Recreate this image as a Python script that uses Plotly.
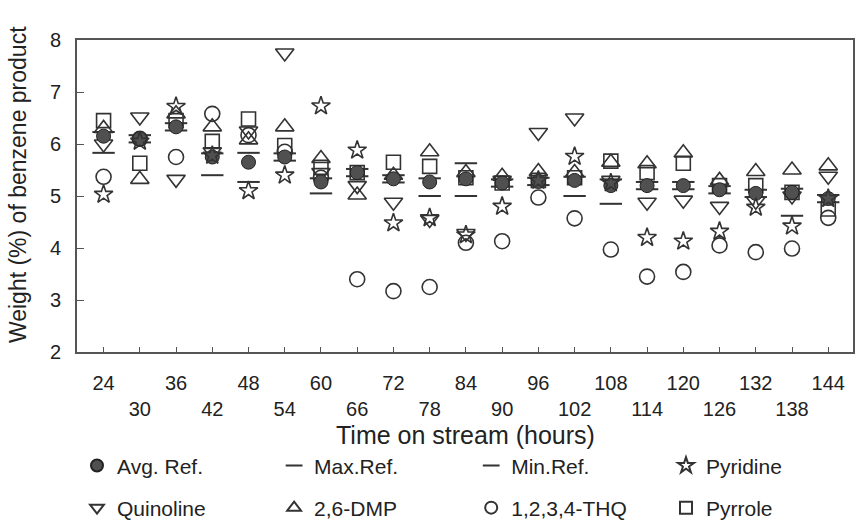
import plotly.graph_objects as go

time_h = [24, 30, 36, 42, 48, 54, 60, 66, 72, 78, 84, 90, 96, 102, 108, 114, 120, 126, 132, 138, 144]
tick_text = ["24", "<br>30", "36", "<br>42", "48", "<br>54", "60", "<br>66", "72", "<br>78", "84",
             "<br>90", "96", "<br>102", "108", "<br>114", "120", "<br>126", "132", "<br>138", "144"]

avg_ref = [6.15, 6.10, 6.33, 5.75, 5.65, 5.75, 5.27, 5.45, 5.33, 5.27, 5.33, 5.25, 5.28, 5.30, 5.20, 5.20, 5.20, 5.12, 5.05, 5.07, 4.95]
max_ref = [6.23, 6.17, 6.40, 5.82, 5.83, 5.82, 5.34, 5.52, 5.40, 5.34, 5.63, 5.32, 5.35, 5.37, 5.32, 5.27, 5.27, 5.19, 5.12, 5.14, 5.02]
min_ref = [5.83, 6.03, 6.26, 5.40, 5.27, 5.68, 5.05, 5.38, 5.26, 5.00, 5.00, 5.18, 5.21, 5.00, 4.85, 5.13, 5.13, 5.05, 4.98, 4.62, 4.88]
pyridine = [5.03, 6.05, 6.72, 5.78, 5.10, 5.40, 6.73, 5.88, 4.48, 4.58, 4.25, 4.80, 5.30, 5.76, 5.25, 4.20, 4.13, 4.32, 4.78, 4.42, 4.95]
quinoline = [6.00, 6.52, 5.32, 5.85, 6.25, 7.75, 5.45, 5.20, 4.88, 4.55, 4.28, 5.30, 6.22, 6.50, 5.30, 4.88, 4.92, 4.80, 4.90, 5.00, 5.38]
dmp = [6.30, 5.32, 6.58, 6.33, 6.08, 6.33, 5.72, 5.02, 5.40, 5.85, 5.45, 5.38, 5.47, 5.45, 5.65, 5.62, 5.83, 5.30, 5.47, 5.50, 5.58]
thq = [5.37, 6.10, 5.75, 6.58, 6.17, 5.85, 5.35, 3.40, 3.17, 3.25, 4.10, 4.13, 4.97, 4.57, 3.97, 3.45, 3.54, 4.05, 3.92, 3.99, 4.58]
pyrrole = [6.45, 5.63, 6.45, 6.05, 6.48, 5.97, 5.55, 5.45, 5.65, 5.57, 5.35, 5.25, 5.30, 5.35, 5.67, 5.45, 5.63, 5.20, 5.20, 5.07, 4.75]

ink = "#333333"
font = "Liberation Sans, Arial, sans-serif"
fig = go.Figure()

def add(name, y, symbol, size, legend, color=ink, lw=1.6, fill=None):
    m = dict(symbol=symbol, size=size, color=fill if fill else color,
             line=dict(color=color, width=lw))
    fig.add_trace(go.Scatter(x=time_h, y=y, mode="markers", name=name,
                             marker=m, legend=legend))

# draw order (bottom to top); each entry has its own legend box placed in a 4x2 grid
add("1,2,3,4-THQ", thq, "circle-open", 15, "legend7")
add("Pyrrole", pyrrole, "square-open", 14, "legend8")
add("2,6-DMP", dmp, "triangle-up-open", 16, "legend6")
add("Quinoline", quinoline, "triangle-down-open", 16, "legend5")
add("Max.Ref.", max_ref, "line-ew-open", 16, "legend2", lw=2)
add("Min.Ref.", min_ref, "line-ew-open", 16, "legend3", lw=2)
add("Avg. Ref.", avg_ref, "circle", 14, "legend", color="#222222", lw=1, fill="#505050")
add("Pyridine", pyridine, "star-open", 14, "legend4")

col_x = [0.0, 0.254, 0.508, 0.759]
row_y = [-0.365, -0.5]
leg_common = dict(orientation="h", xanchor="left", yanchor="middle",
                  font=dict(size=21, family=font, color="#222222"),
                  itemsizing="constant", bgcolor="rgba(0,0,0,0)")
legends = {}
names = ["legend", "legend2", "legend3", "legend4", "legend5", "legend6", "legend7", "legend8"]
for i, nm in enumerate(names):
    legends[nm] = dict(x=col_x[i % 4], y=row_y[i // 4], **leg_common)

fig.update_layout(
    width=855, height=522,
    margin=dict(l=77, r=2, t=40, b=170, autoexpand=False),
    paper_bgcolor="white", plot_bgcolor="white",
    font=dict(family=font, size=20, color="#222222"),
    showlegend=True,
    **legends,
    xaxis=dict(range=[19.6, 148.1], tickvals=time_h, ticktext=tick_text,
               ticks="inside", ticklen=5, tickcolor="#555555",
               showline=True, linecolor="#555555", linewidth=2, mirror=True,
               showgrid=False, zeroline=False, ticklabelstandoff=12,
               tickfont=dict(size=20), automargin=False),
    yaxis=dict(range=[2, 8], tickvals=[2, 3, 4, 5, 6, 7, 8],
               ticks="inside", ticklen=7, tickcolor="#555555",
               showline=True, linecolor="#555555", linewidth=2, mirror=True,
               showgrid=False, zeroline=False, ticklabelstandoff=10,
               tickfont=dict(size=20), automargin=False),
    annotations=[
        dict(text="Time on stream (hours)", xref="paper", yref="paper",
             x=0.5, y=-0.266, xanchor="center", yanchor="middle",
             showarrow=False, font=dict(size=25)),
        dict(text="Weight (%) of benzene product", xref="paper", yref="paper",
             x=-0.076, y=0.535, xanchor="center", yanchor="middle", textangle=-90,
             showarrow=False, font=dict(size=23)),
    ],
)

fig.write_html("out.html")
